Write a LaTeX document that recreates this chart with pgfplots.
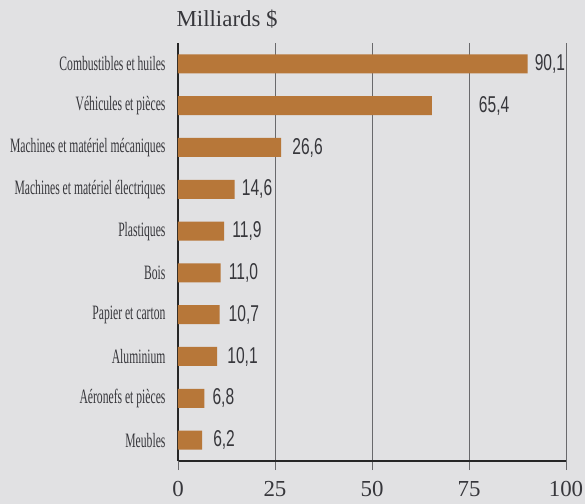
\documentclass[border=0pt]{standalone}
\usepackage{pgfplots}
\usepackage{pgfplotstable}
\pgfplotsset{compat=1.18}
\usepackage{fontspec}
\setmainfont{Liberation Serif}
\newfontfamily\condfont[FakeStretch=0.57]{Liberation Serif}
\newfontfamily\valfont[FakeStretch=0.68]{Liberation Sans}
\definecolor{bg}{RGB}{225,225,227}
\definecolor{barc}{RGB}{183,119,57}
\definecolor{gridc}{RGB}{105,105,108}
\definecolor{txtc}{RGB}{55,55,60}

\pgfplotstableread{
y x label shift
9 90.1 {90,1} 7
8 65.4 {65,4} 47
7 26.6 {26,6} 11
6 14.6 {14,6} 7
5 11.9 {11,9} 8
4 11.0 {11,0} 8
3 10.7 {10,7} 9
2 10.1 {10,1} 10
1 6.8 {6,8} 8
0 6.2 {6,2} 11
}\datatable

\begin{document}
\begin{tikzpicture}
\path[use as bounding box, fill=bg] (-178bp,-43bp) rectangle (407bp,461bp);
\begin{axis}[
  at={(0,0)}, anchor=south west,
  scale only axis, width=388bp, height=418bp,
  xmin=0, xmax=100, ymin=-0.5, ymax=9.5,
  axis x line=bottom, axis y line=left,
  x axis line style={-, black!85, line width=2.4bp},
  y axis line style={-, black!85, line width=2bp},
  xtick={25,50,75,100},
  extra x ticks={0}, extra x tick labels={0},
  extra x tick style={grid=none, tick style={black!85, line width=2bp}},
  xmajorgrids, grid style={gridc, line width=0.8bp},
  major tick length=9bp, tick align=outside,
  x tick style={gridc, line width=0.9bp},
  ytick={0,...,9},
  yticklabels={Meubles, Aéronefs et pièces, Aluminium, Papier et carton, Bois, Plastiques, Machines et matériel électriques, Machines et matériel mécaniques, Véhicules et pièces, Combustibles et huiles},
  y tick style={draw=none},
  yticklabel style={font=\condfont\fontsize{20.5}{20.5}\selectfont, text=txtc},
  xticklabel style={font=\fontsize{23}{23}\selectfont, text=txtc, yshift=-8bp},
  /pgf/number format/assume math mode=true,
  clip=false,
]
\addplot[xbar, bar width=19bp, fill=barc, draw=none,
  visualization depends on={\thisrow{shift}\as\myshift},
  nodes near coords, point meta=explicit symbolic,
  nodes near coords style={anchor=west, inner sep=0pt, xshift=\myshift bp,
    font=\valfont\fontsize{23}{23}\selectfont, text=txtc}]
  table[x=x, y=y, meta=label] {\datatable};
\node[anchor=base west, font=\fontsize{23}{23}\selectfont, text=txtc]
  at (rel axis cs:0,1) [xshift=-5bp, yshift=16bp] {Milliards \$};
\end{axis}
\end{tikzpicture}
\end{document}
